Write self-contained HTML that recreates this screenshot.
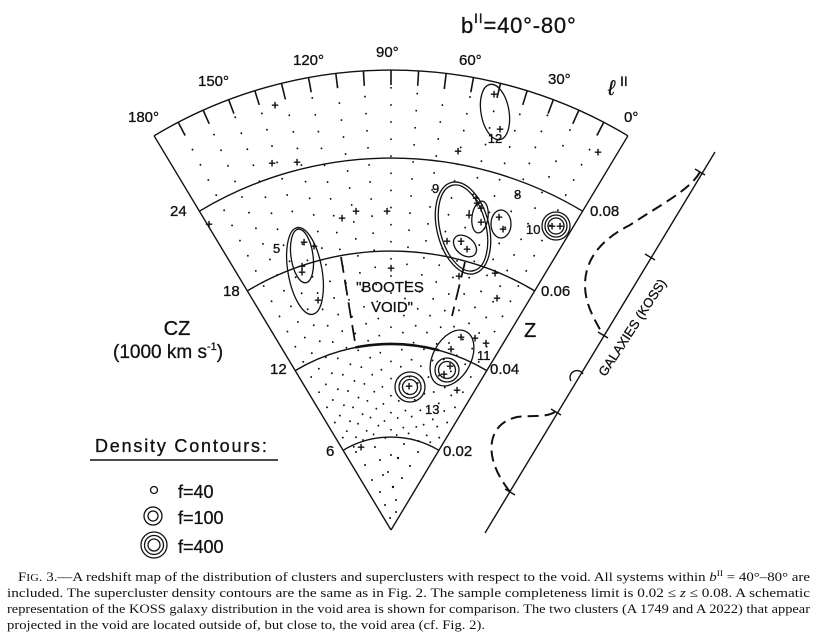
<!DOCTYPE html>
<html><head><meta charset="utf-8"><style>
html,body{margin:0;padding:0;background:#fff;}
svg{display:block;}
text{font-family:"Liberation Sans",sans-serif;fill:#111;}
.cap{font-family:"Liberation Serif",serif;font-size:12.6px;}
</style></head><body>
<svg width="819" height="640" viewBox="0 0 819 640" xmlns="http://www.w3.org/2000/svg">
<g fill="none" stroke="#111" stroke-width="1.4">
<line x1="391" y1="530" x2="154.1" y2="135.8"/>
<line x1="391" y1="530" x2="627.9" y2="135.8"/>
<path d="M343.1 450.3 A93 93 0 0 1 438.9 450.3"/>
<path d="M295.2 370.6 A186 186 0 0 1 486.8 370.6"/>
<path d="M247.3 290.9 A279 279 0 0 1 534.7 290.9"/>
<path d="M199.4 211.2 A372 372 0 0 1 582.6 211.2"/>
<path d="M154.1 135.8 A460 460 0 0 1 627.9 135.8"/>
<path d="M355.5 347.4 A186 186 0 0 1 439 350.3" stroke-width="2.6"/>
</g>
<!-- dotted radials -->
<g stroke="#111" stroke-width="1.8" stroke-linecap="round" stroke-dasharray="0.1 17">
<line x1="391" y1="440" x2="391" y2="82" stroke-dashoffset="3" transform="rotate(27.56 391 530)"/>
<line x1="391" y1="440" x2="391" y2="82" stroke-dashoffset="11" transform="rotate(24.11 391 530)"/>
<line x1="391" y1="440" x2="391" y2="82" stroke-dashoffset="6" transform="rotate(20.67 391 530)"/>
<line x1="391" y1="440" x2="391" y2="82" stroke-dashoffset="14" transform="rotate(17.22 391 530)"/>
<line x1="391" y1="440" x2="391" y2="82" stroke-dashoffset="1" transform="rotate(13.78 391 530)"/>
<line x1="391" y1="440" x2="391" y2="82" stroke-dashoffset="9" transform="rotate(10.33 391 530)"/>
<line x1="391" y1="440" x2="391" y2="82" stroke-dashoffset="4" transform="rotate(6.89 391 530)"/>
<line x1="391" y1="440" x2="391" y2="82" stroke-dashoffset="12" transform="rotate(3.44 391 530)"/>
<line x1="391" y1="440" x2="391" y2="82" stroke-dashoffset="7"/>
<line x1="391" y1="440" x2="391" y2="82" stroke-dashoffset="15" transform="rotate(-3.44 391 530)"/>
<line x1="391" y1="440" x2="391" y2="82" stroke-dashoffset="2" transform="rotate(-6.89 391 530)"/>
<line x1="391" y1="440" x2="391" y2="82" stroke-dashoffset="10" transform="rotate(-10.33 391 530)"/>
<line x1="391" y1="440" x2="391" y2="82" stroke-dashoffset="5" transform="rotate(-13.78 391 530)"/>
<line x1="391" y1="440" x2="391" y2="82" stroke-dashoffset="13" transform="rotate(-17.22 391 530)"/>
<line x1="391" y1="440" x2="391" y2="82" stroke-dashoffset="8" transform="rotate(-20.67 391 530)"/>
<line x1="391" y1="440" x2="391" y2="82" stroke-dashoffset="16" transform="rotate(-24.11 391 530)"/>
<line x1="391" y1="440" x2="391" y2="82" stroke-dashoffset="3" transform="rotate(-27.56 391 530)"/>
</g>
<!-- scattered dots near apex -->
<g fill="#111">
<circle cx="390" cy="518" r="1"/><circle cx="385" cy="505" r="1"/><circle cx="396" cy="500" r="1"/><circle cx="380" cy="492" r="1"/>
<circle cx="393" cy="487" r="1.2"/><circle cx="402" cy="478" r="1"/><circle cx="372" cy="480" r="1"/><circle cx="388" cy="472" r="1"/>
<circle cx="410" cy="466" r="1"/><circle cx="365" cy="465" r="1"/><circle cx="380" cy="460" r="1"/><circle cx="398" cy="458" r="1.2"/>
<circle cx="418" cy="452" r="1"/><circle cx="356" cy="452" r="1"/><circle cx="375" cy="447" r="1"/><circle cx="404" cy="444" r="1"/>
<circle cx="391" cy="455" r="1"/><circle cx="396" cy="512" r="1"/><circle cx="383" cy="475" r="1"/>
</g>
<!-- outer ticks -->
<g stroke="#111" stroke-width="1.6">
<line x1="391" y1="70" x2="391" y2="85" transform="rotate(27.56 391 530)"/>
<line x1="391" y1="70" x2="391" y2="85" transform="rotate(24.11 391 530)"/>
<line x1="391" y1="70" x2="391" y2="85" transform="rotate(20.67 391 530)"/>
<line x1="391" y1="70" x2="391" y2="85" transform="rotate(17.22 391 530)"/>
<line x1="391" y1="70" x2="391" y2="85" transform="rotate(13.78 391 530)"/>
<line x1="391" y1="70" x2="391" y2="85" transform="rotate(10.33 391 530)"/>
<line x1="391" y1="70" x2="391" y2="85" transform="rotate(6.89 391 530)"/>
<line x1="391" y1="70" x2="391" y2="85" transform="rotate(3.44 391 530)"/>
<line x1="391" y1="70" x2="391" y2="85"/>
<line x1="391" y1="70" x2="391" y2="85" transform="rotate(-3.44 391 530)"/>
<line x1="391" y1="70" x2="391" y2="85" transform="rotate(-6.89 391 530)"/>
<line x1="391" y1="70" x2="391" y2="85" transform="rotate(-10.33 391 530)"/>
<line x1="391" y1="70" x2="391" y2="85" transform="rotate(-13.78 391 530)"/>
<line x1="391" y1="70" x2="391" y2="85" transform="rotate(-17.22 391 530)"/>
<line x1="391" y1="70" x2="391" y2="85" transform="rotate(-20.67 391 530)"/>
<line x1="391" y1="70" x2="391" y2="85" transform="rotate(-24.11 391 530)"/>
<line x1="391" y1="70" x2="391" y2="85" transform="rotate(-27.56 391 530)"/>
</g>
<!-- void dashed -->
<g stroke="#111" stroke-width="1.8" stroke-dasharray="16 7" fill="none">
<line x1="341" y1="257" x2="355" y2="342"/>
<line x1="465" y1="262" x2="452" y2="316"/>
</g>
<!-- clusters -->
<g fill="none" stroke="#111" stroke-width="1.3">
<ellipse cx="495" cy="112" rx="14" ry="28" transform="rotate(-10 495 112)"/>
<ellipse cx="463" cy="228" rx="26" ry="47" transform="rotate(-14 463 228)"/>
<ellipse cx="463" cy="228" rx="23" ry="44" transform="rotate(-14 463 228)"/>
<ellipse cx="480" cy="217" rx="8" ry="16" transform="rotate(8 480 217)"/>
<ellipse cx="465" cy="246" rx="13" ry="9" transform="rotate(40 465 246)"/>
<ellipse cx="501" cy="224" rx="10" ry="14"/>
<circle cx="556" cy="226" r="14"/><circle cx="556" cy="226" r="11"/><circle cx="556" cy="226" r="8"/>
<ellipse cx="305" cy="271" rx="17" ry="44" transform="rotate(-10 305 271)"/>
<ellipse cx="302" cy="256" rx="11" ry="27" transform="rotate(-8 302 256)"/>
<ellipse cx="452" cy="358" rx="19" ry="30" transform="rotate(28 452 358)"/>
<circle cx="447" cy="370" r="12"/><circle cx="447" cy="370" r="8.5"/>
<circle cx="410" cy="387" r="15"/><circle cx="410" cy="387" r="11"/><circle cx="410" cy="387" r="7.5"/>
<circle cx="154" cy="490" r="3.5"/>
<circle cx="153" cy="516" r="9"/><circle cx="153" cy="516" r="5"/>
<circle cx="154" cy="545" r="13"/><circle cx="154" cy="545" r="9.5"/><circle cx="154" cy="545" r="6"/>
</g>
<g font-size="13" font-weight="bold" text-anchor="middle" dominant-baseline="central">
<text x="494" y="94">+</text><text x="500" y="129">+</text>
<text x="275" y="105">+</text><text x="272" y="163">+</text><text x="297" y="162">+</text>
<text x="458" y="151">+</text><text x="598" y="152">+</text><text x="209" y="224">+</text>
<text x="342" y="218">+</text><text x="356" y="211">+</text><text x="387" y="211">+</text>
<text x="476" y="198">+</text><text x="481" y="208">+</text><text x="481" y="222">+</text><text x="469" y="215">+</text>
<text x="447" y="241">+</text><text x="461" y="241">+</text><text x="467" y="249">+</text>
<text x="499" y="217">+</text><text x="503" y="229">+</text>
<text x="552" y="226">+</text><text x="560" y="226">+</text>
<text x="304" y="242">+</text><text x="314" y="246">+</text><text x="302" y="266">+</text><text x="302" y="272">+</text><text x="318" y="300">+</text>
<text x="391" y="268">+</text><text x="459" y="276">+</text><text x="495" y="273">+</text><text x="497" y="298">+</text>
<text x="461" y="337">+</text><text x="475" y="338">+</text><text x="486" y="343">+</text><text x="451" y="349">+</text>
<text x="450" y="366">+</text><text x="444" y="374">+</text><text x="457" y="390">+</text>
<text x="409" y="386">+</text><text x="361" y="447">+</text><text x="477" y="203">+</text>
</g>
<!-- labels -->
<g font-size="15" stroke="#111" stroke-width="0.3">
<text x="495" y="143" text-anchor="middle" font-size="13">12</text>
<text x="432" y="193" font-size="13">9</text>
<text x="514" y="199" font-size="13">8</text>
<text x="526" y="234" font-size="13">10</text>
<text x="273" y="253" font-size="13">5</text>
<text x="477" y="360" font-size="13">11</text>
<text x="425" y="414" font-size="13">13</text>
<text x="390" y="292" text-anchor="middle" font-size="15">"BOOTES</text>
<text x="392" y="312" text-anchor="middle" font-size="15">VOID"</text>
<text x="128" y="122">180°</text>
<text x="198" y="86">150°</text>
<text x="293" y="65">120°</text>
<text x="376" y="57">90°</text>
<text x="459" y="65">60°</text>
<text x="548" y="84">30°</text>
<text x="624" y="122">0°</text>
<text x="170" y="216">24</text>
<text x="223" y="296">18</text>
<text x="270" y="374">12</text>
<text x="326" y="456">6</text>
<text x="590" y="216">0.08</text>
<text x="541" y="296">0.06</text>
<text x="490" y="374">0.04</text>
<text x="443" y="456">0.02</text>
<text x="524" y="337" font-size="20">Z</text>
<text x="177" y="335" font-size="20" text-anchor="middle">CZ</text>
<text x="113" y="358" font-size="19">(1000 km s<tspan font-size="11" dy="-8">-1</tspan><tspan dy="8">)</tspan></text>
<text x="461" y="33" font-size="22" letter-spacing="0.8">b<tspan font-size="14" dy="-10">II</tspan><tspan dy="10">=40°-80°</tspan></text>
<text x="608" y="95" font-size="21" font-style="italic">ℓ</text>
<text x="620" y="86" font-size="14">II</text>
<text x="95" y="452" font-size="18" letter-spacing="1.8">Density Contours:</text>
<text x="178" y="498" font-size="18">f=40</text>
<text x="178" y="524" font-size="18">f=100</text>
<text x="178" y="553" font-size="18">f=400</text>
<text x="636" y="330" font-size="13" text-anchor="middle" transform="rotate(-57 636 330)">GALAXIES (KOSS)</text>
</g>
<line x1="90" y1="460" x2="278" y2="460" stroke="#111" stroke-width="1.6"/>
<!-- KOSS -->
<g stroke="#111" stroke-width="1.4" fill="none">
<line x1="715" y1="152" x2="485" y2="533"/>
<line x1="695" y1="169" x2="705" y2="175"/>
<line x1="645" y1="254" x2="655" y2="260"/>
<line x1="598" y1="332" x2="608" y2="338"/>
<line x1="551" y1="409" x2="561" y2="415"/>
<line x1="505" y1="489" x2="515" y2="495"/>
<path d="M571 381 A6 6 0 0 1 583 374"/>
</g>
<g stroke="#111" stroke-width="2" fill="none" stroke-dasharray="11 6">
<path d="M700 172 C690 190 660 205 630 225 C600 240 585 260 585 285 C585 305 595 320 603 335"/>
<path d="M555 412 C545 418 530 415 517 417 C495 422 488 440 493 460 C497 475 505 485 510 492"/>
</g>
<!-- caption -->
<g class="cap">
<text x="18" y="581" textLength="792" lengthAdjust="spacingAndGlyphs" class="cap">F<tspan font-size="10">IG</tspan>. 3.—A redshift map of the distribution of clusters and superclusters with respect to the void. All systems within <tspan font-style="italic">b</tspan><tspan font-size="8" dy="-5">II</tspan><tspan dy="5"> = 40°–80° are</tspan></text>
<text x="7" y="597" textLength="803" lengthAdjust="spacingAndGlyphs" class="cap">included. The supercluster density contours are the same as in Fig. 2. The sample completeness limit is 0.02 ≤ <tspan font-style="italic">z</tspan> ≤ 0.08. A schematic</text>
<text x="7" y="613" textLength="803" lengthAdjust="spacingAndGlyphs" class="cap">representation of the KOSS galaxy distribution in the void area is shown for comparison. The two clusters (A 1749 and A 2022) that appear</text>
<text x="7" y="629" textLength="478" lengthAdjust="spacingAndGlyphs" class="cap">projected in the void are located outside of, but close to, the void area (cf. Fig. 2).</text>
</g>
</svg>
</body></html>
